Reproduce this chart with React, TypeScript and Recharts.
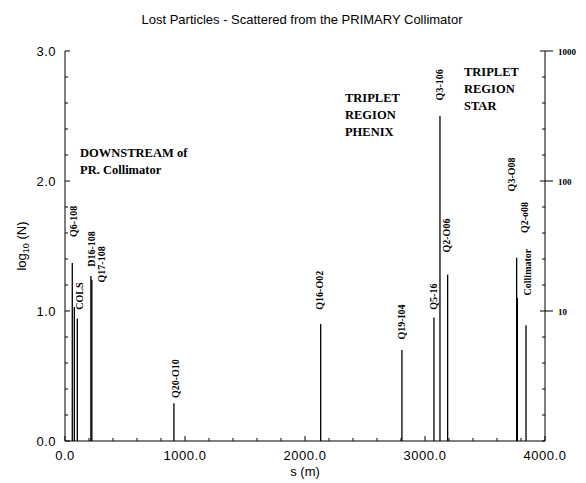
import React from "react";
import { Bar, ComposedChart, Scatter, XAxis, YAxis } from "recharts";

// loss positions along the ring (m) and log10 of lost particle counts
const lossS = [61, 78, 103, 216, 224, 908, 2131, 2808, 3075, 3125, 3189, 3764, 3770, 3842];
const lossLog = [1.37, 1.03, 0.94, 1.27, 1.24, 0.29, 0.9, 0.7, 0.95, 2.5, 1.28, 1.41, 1.1, 0.89];

// element names written above the sticks (anchor in data coords)
const elementNames = [
  "Q6-108", "COLS", "D16-108", "Q17-108", "Q20-O10", "Q16-O02", "Q19-I04",
  "Q5-16", "Q3-106", "Q2-O06", "Q3-O08", "Q2-o08", "Collimator"
];
const elementS = [67, 117, 217, 308, 917, 2125, 2808, 3075, 3125, 3183, 3725, 3825, 3858];
const elementLog = [1.57, 1.01, 1.34, 1.22, 0.33, 1.01, 0.78, 1.01, 2.62, 1.45, 1.92, 1.6, 1.12];

// region notes
const regionLines = [
  ["DOWNSTREAM of", "PR. Collimator"],
  ["TRIPLET", "REGION", "PHENIX"],
  ["TRIPLET", "REGION", "STAR"]
];
const regionS = [125, 2333, 3325];
const regionLog = [2.22, 2.64, 2.84];

const sTicks = [
  0, 200, 400, 600, 800, 1000, 1200, 1400, 1600, 1800, 2000, 2200, 2400, 2600, 2800,
  3000, 3200, 3400, 3600, 3800, 4000
];
const sMajor = [0, 1000, 2000, 3000, 4000];
const logTicks = [0, 0.2, 0.4, 0.6, 0.8, 1, 1.2, 1.4, 1.6, 1.8, 2, 2.2, 2.4, 2.6, 2.8, 3];
const decadeTicks = [1, 2, 3];
const decadeLabels = ["10", "100", "1000"];

const title = "Lost Particles - Scattered from the PRIMARY Collimator";

const barData = lossS.map((s, i) => ({ s, v: lossLog[i] }));
const nameData = elementNames.map((name, i) => ({ name, s: elementS[i], v: elementLog[i] }));
const regionData = regionLines.map((lines, i) => ({ lines, s: regionS[i], v: regionLog[i] }));

const SANS = "'Liberation Sans', Arial, sans-serif";
const SERIF = "'Liberation Serif', 'Times New Roman', serif";

const isWhole = (v: number) => Math.abs(v - Math.round(v)) < 1e-6;

function Stick(p: any) {
  const cx = p.x + p.width / 2;
  return <line x1={cx} x2={cx} y1={p.y} y2={p.y + p.height} stroke="#000" strokeWidth={1.3} />;
}

function LeftTick({ x, y, payload }: any) {
  const major = isWhole(payload.value);
  return (
    <g>
      <line x1={x} x2={x + (major ? 5 : 3)} y1={y} y2={y} stroke="#000" />
      {major && (
        <text x={x - 9} y={y + 4.5} textAnchor="end" fontSize={13} fontFamily={SANS} fill="#000" letterSpacing={0.5}>
          {payload.value.toFixed(1)}
        </text>
      )}
    </g>
  );
}

function RightTick({ x, y, payload }: any) {
  const idx = decadeTicks.findIndex((d) => Math.abs(d - payload.value) < 1e-6);
  if (idx >= 0) {
    return (
      <g>
        <line x1={x - 5} x2={x + 8} y1={y} y2={y} stroke="#000" />
        <text x={x + 13} y={y + 3.5} fontSize={9} fontWeight="bold" fontFamily={SERIF} fill="#000">
          {decadeLabels[idx]}
        </text>
      </g>
    );
  }
  return <line x1={x - 3} x2={x} y1={y} y2={y} stroke="#000" />;
}

function BottomTick({ x, y, payload }: any) {
  const major = sMajor.includes(payload.value);
  return (
    <g>
      <line x1={x} x2={x} y1={y} y2={y - (major ? 5 : 3)} stroke="#000" />
      {major && (
        <text x={x} y={y + 19} textAnchor="middle" fontSize={13} fontFamily={SANS} fill="#000" letterSpacing={0.5}>
          {payload.value.toFixed(1)}
        </text>
      )}
    </g>
  );
}

function TopTick({ x, y, payload }: any) {
  const major = sMajor.includes(payload.value);
  return <line x1={x} x2={x} y1={y} y2={y + (major ? 5 : 3)} stroke="#000" />;
}

function NameMark({ cx, cy, payload }: any) {
  return (
    <text
      x={cx}
      y={cy}
      transform={`rotate(-90 ${cx} ${cy})`}
      dominantBaseline="central"
      fontSize={10}
      fontWeight="bold"
      fontFamily={SERIF}
      fill="#000"
    >
      {payload.name}
    </text>
  );
}

function RegionMark({ cx, cy, payload }: any) {
  return (
    <text x={cx} y={cy + 4.5} fontSize={12.5} fontWeight="bold" fontFamily={SERIF} fill="#000">
      {payload.lines.map((line: string, i: number) => (
        <tspan key={line + i} x={cx} dy={i === 0 ? 0 : 17}>
          {line}
        </tspan>
      ))}
    </text>
  );
}

function YLabel({ viewBox }: any) {
  const x = viewBox.x + 26;
  const y = viewBox.y + viewBox.height / 2;
  return (
    <text x={x} y={y} transform={`rotate(-90 ${x} ${y})`} textAnchor="middle" fontSize={13} fontFamily={SANS} fill="#000">
      log
      <tspan fontSize={9} dy={3}>10</tspan>
      <tspan dy={-3}> (N)</tspan>
    </text>
  );
}

export default function App() {
  return (
    <div style={{ position: "absolute", left: 0, top: 0, width: 586, height: 483, background: "#fff" }}>
      <div
        style={{
          position: "absolute",
          left: 0,
          top: 12,
          width: 604,
          textAlign: "center",
          fontFamily: SANS,
          fontSize: 13,
          color: "#000"
        }}
      >
        {title}
      </div>
      <ComposedChart width={586} height={483} data={barData} margin={{ top: 51, right: 0, bottom: 0, left: 0 }}>
        <XAxis
          xAxisId="bottom"
          dataKey="s"
          type="number"
          domain={[0, 4000]}
          allowDataOverflow
          ticks={sTicks}
          interval={0}
          tickSize={0}
          tickMargin={0}
          tick={<BottomTick />}
          axisLine={{ stroke: "#000" }}
          height={42}
          label={{ value: "s (m)", position: "insideBottom", offset: 7, fontSize: 13, fontFamily: SANS, fill: "#000" }}
        />
        <XAxis
          xAxisId="top"
          orientation="top"
          dataKey="s"
          type="number"
          domain={[0, 4000]}
          allowDataOverflow
          ticks={sTicks}
          interval={0}
          tickSize={0}
          tickMargin={0}
          tick={<TopTick />}
          axisLine={{ stroke: "#000" }}
          height={0}
        />
        <YAxis
          yAxisId="left"
          dataKey="v"
          type="number"
          domain={[0, 3]}
          allowDataOverflow
          ticks={logTicks}
          interval={0}
          tickSize={0}
          tickMargin={0}
          tick={<LeftTick />}
          axisLine={{ stroke: "#000" }}
          width={65}
          label={{ content: <YLabel /> }}
        />
        <YAxis
          yAxisId="right"
          orientation="right"
          dataKey="v"
          type="number"
          domain={[0, 3]}
          allowDataOverflow
          ticks={logTicks}
          interval={0}
          tickSize={0}
          tickMargin={0}
          tick={<RightTick />}
          axisLine={{ stroke: "#000" }}
          width={41}
        />
        <Bar xAxisId="bottom" yAxisId="left" dataKey="v" barSize={2} shape={<Stick />} isAnimationActive={false} />
        <Scatter xAxisId="top" yAxisId="right" data={nameData} dataKey="v" shape={NameMark} isAnimationActive={false} />
        <Scatter xAxisId="top" yAxisId="right" data={regionData} dataKey="v" shape={RegionMark} isAnimationActive={false} />
      </ComposedChart>
    </div>
  );
}
